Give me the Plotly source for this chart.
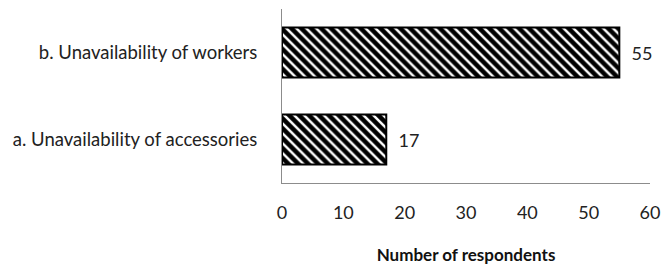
import plotly.graph_objects as go

categories = ["a. Unavailability of accessories", "b. Unavailability of workers"]
values = [17, 55]
x_ticks = [0, 10, 20, 30, 40, 50, 60]

font = "Lato, Open Sans, sans-serif"

fig = go.Figure(go.Bar(
    y=categories, x=values, orientation="h",
    marker=dict(color="white",
                line=dict(color="black", width=2),
                pattern=dict(shape="\\", fgcolor="black", bgcolor="white", fgopacity=1,
                             size=7, solidity=0.65)),
    text=[str(v) for v in values], texttemplate="  %{text}", textposition="outside",
    textfont=dict(family=font, size=18, color="#222"),
    cliponaxis=False,
))

fig.update_layout(
    width=662, height=267,
    margin=dict(l=282, r=12, t=9, b=84, autoexpand=False),
    plot_bgcolor="white", paper_bgcolor="white",
    bargap=0.425, showlegend=False,
    font=dict(family=font, size=18.5, color="#222"),
)
fig.update_xaxes(range=[0, 60], tickvals=x_ticks, showgrid=False, zeroline=False,
                 showline=True, linecolor="#8c8c8c", linewidth=1, automargin=False,
                 ticks="outside", ticklen=13, tickcolor="rgba(0,0,0,0)",
                 tickfont=dict(size=18), ticklabeloverflow="allow",
                 title=dict(text="<b>Number of respondents</b>", standoff=27,
                            font=dict(family=font, size=17, color="#111")))
fig.update_yaxes(showgrid=False, zeroline=False, showline=True, linecolor="#8c8c8c",
                 linewidth=1, automargin=False,
                 ticks="outside", ticklen=20, tickcolor="rgba(0,0,0,0)")

fig.write_html("out.html", config={"displayModeBar": False},
               post_script="document.body.style.margin='0';document.body.style.overflow='hidden';")
